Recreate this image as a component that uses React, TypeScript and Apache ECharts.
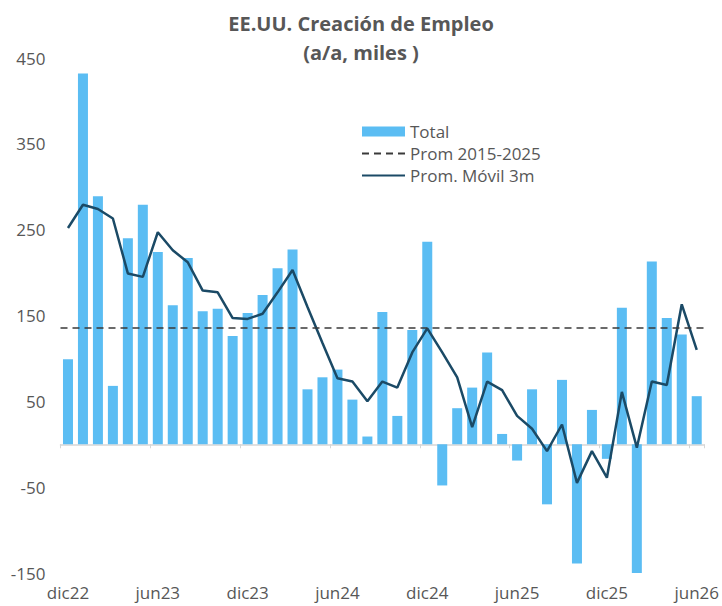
import React, { useEffect, useRef } from "react";
import * as echarts from "echarts";

const CATEGORIES = [
  "dic22", "ene23", "feb23", "mar23", "abr23", "may23", "jun23", "jul23", "ago23", "sep23", "oct23", "nov23",
  "dic23", "ene24", "feb24", "mar24", "abr24", "may24", "jun24", "jul24", "ago24", "sep24", "oct24", "nov24",
  "dic24", "ene25", "feb25", "mar25", "abr25", "may25", "jun25", "jul25", "ago25", "sep25", "oct25", "nov25",
  "dic25", "ene26", "feb26", "mar26", "abr26", "may26", "jun26",
];

const TOTAL = [
  99, 432, 289, 68, 240, 279, 224, 162, 217, 155, 158, 126,
  153, 174, 205, 227, 64, 78, 87, 52, 9, 154, 33, 133,
  236, -48, 42, 66, 107, 12, -19, 64, -70, 75, -139, 40,
  -17, 159, -150, 213, 147, 128, 56,
];

const MOVING_AVG_3M = [
  252, 279, 274, 263, 199, 195, 247, 226, 212, 179, 177, 147,
  146, 152, 177, 203, 160, 118, 77, 73, 50, 73, 66, 107,
  135, 107, 78, 20, 73, 63, 33, 18, -8, 23, -45, -8,
  -39, 61, -4, 73, 69, 163, 110,
];

const PROM_2015_2025 = 136;

const Y_MIN = -150;
const Y_MAX = 450;
const Y_STEP = 100;

const TEXT = "#575757";
const FONT = "'Open Sans', 'Noto Sans', sans-serif";

export default function App() {
  const ref = useRef<HTMLDivElement>(null);

  useEffect(() => {
    if (!ref.current) return;
    const chart = echarts.init(ref.current, undefined, { renderer: "svg" });
    const hiddenSymbol = { opacity: 0, color: "transparent", borderWidth: 0 };
    chart.setOption({
      animation: false,
      backgroundColor: "#ffffff",
      textStyle: { fontFamily: FONT },
      title: {
        text: "EE.UU. Creación de Empleo\n(a/a, miles )",
        left: "center",
        top: 4,
        textStyle: {
          fontFamily: FONT,
          fontSize: 20,
          fontWeight: "bold",
          color: TEXT,
          lineHeight: 29,
        },
      },
      legend: {
        orient: "vertical",
        left: 356,
        top: 118,
        itemWidth: 43,
        itemHeight: 10,
        itemGap: 5,
        textStyle: { fontFamily: FONT, fontSize: 17, color: TEXT },
        data: [
          { name: "Total", icon: "rect" },
          { name: "Prom 2015-2025", itemStyle: hiddenSymbol },
          { name: "Prom. Móvil 3m", itemStyle: hiddenSymbol },
        ],
      },
      grid: { left: 60.5, right: 16.5, top: 58, bottom: 33, containLabel: false },
      xAxis: [
        {
          type: "category",
          data: CATEGORIES,
          position: "bottom",
          axisLine: { show: false, onZero: false },
          axisTick: { show: false },
          axisLabel: {
            interval: 5,
            fontFamily: FONT,
            fontSize: 17,
            color: TEXT,
            margin: 11,
          },
          splitLine: { show: false },
        },
        {
          type: "category",
          data: CATEGORIES,
          position: "bottom",
          axisLine: { show: true, onZero: true, lineStyle: { color: "#d6d6d6", width: 1.5 } },
          axisTick: { show: true, interval: 5, length: 4, lineStyle: { color: "#d6d6d6" } },
          axisLabel: { show: false },
          splitLine: { show: false },
        },
      ],
      yAxis: {
        type: "value",
        min: Y_MIN,
        max: Y_MAX,
        interval: Y_STEP,
        axisLine: { show: false },
        axisTick: { show: false },
        splitLine: { show: false },
        axisLabel: { fontFamily: FONT, fontSize: 17, color: TEXT, margin: 15 },
      },
      series: [
        {
          name: "Total",
          type: "bar",
          xAxisIndex: 0,
          data: TOTAL,
          barWidth: 10,
          itemStyle: { color: "#5BBDF3" },
          z: 1,
        },
        {
          name: "Prom 2015-2025",
          type: "line",
          xAxisIndex: 0,
          data: [],
          symbol: "none",
          lineStyle: { color: "#3a3a3a", width: 1.5, type: [7, 5] },
          itemStyle: { color: "#3a3a3a" },
          markLine: {
            silent: true,
            symbol: "none",
            label: { show: false },
            lineStyle: { color: "#3a3a3a", width: 1.5, type: [7, 5] },
            data: [{ yAxis: PROM_2015_2025 }],
          },
          z: 3,
        },
        {
          name: "Prom. Móvil 3m",
          type: "line",
          xAxisIndex: 0,
          data: MOVING_AVG_3M,
          symbol: "none",
          lineStyle: { color: "#1B4A66", width: 2.5 },
          itemStyle: { color: "#1B4A66" },
          z: 4,
        },
      ],
    });
    return () => chart.dispose();
  }, []);

  return (
    <div
      ref={ref}
      style={{ position: "fixed", left: 0, top: 0, width: 722, height: 606, background: "#fff" }}
    />
  );
}
